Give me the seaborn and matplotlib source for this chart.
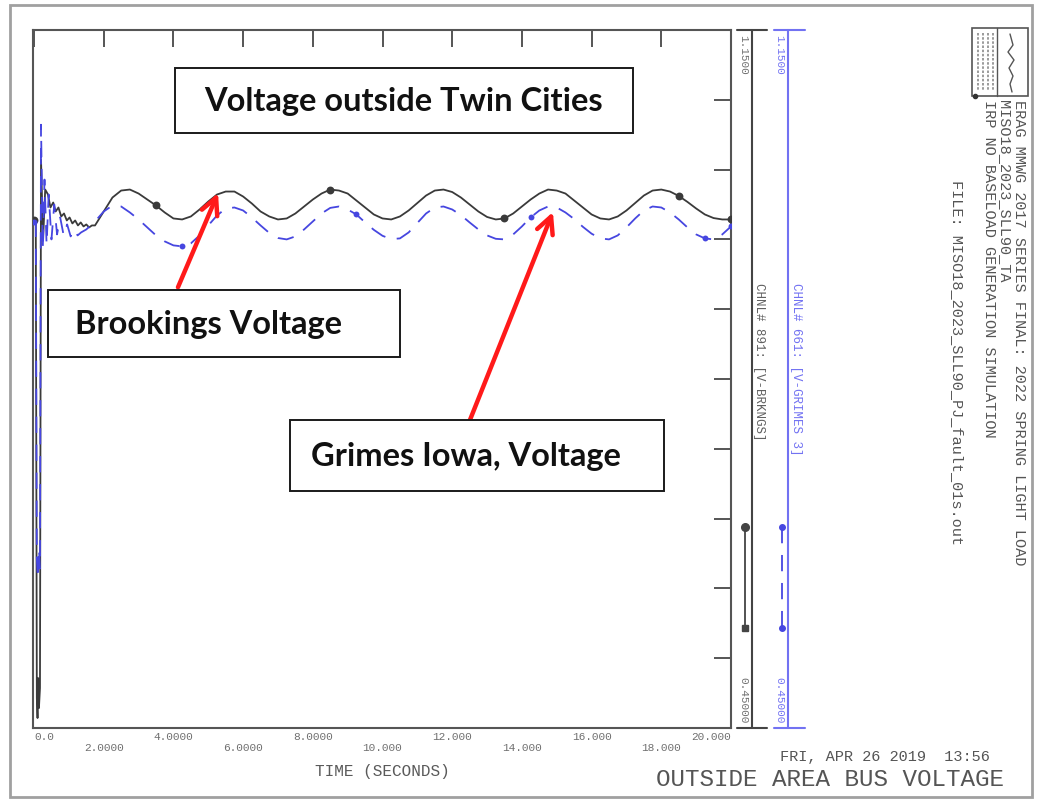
import numpy as np
import pandas as pd
import matplotlib
matplotlib.use("Agg")
import matplotlib.pyplot as plt
from matplotlib.patches import Rectangle
import seaborn as sns

# ---- simulation traces (time in seconds, voltage in pu) ----
brk_time = [0.0, 0.05, 0.08, 0.10, 0.12, 0.14, 0.17, 0.20, 0.26, 0.32, 0.40, 0.47,
            0.55, 0.62, 0.70, 0.78, 0.86, 0.94, 1.02, 1.10, 1.18, 1.26, 1.34, 1.42,
            1.50, 1.58, 1.66, 1.75, 2.0, 2.25, 2.5, 2.75, 3.0, 3.25, 3.5, 3.75, 4.0,
            4.25, 4.5, 4.75, 5.0, 5.25, 5.5, 5.75, 6.0, 6.25, 6.5, 6.75, 7.0, 7.25,
            7.5, 7.75, 8.0, 8.25, 8.5, 8.75, 9.0, 9.25, 9.5, 9.75, 10.0, 10.25, 10.5,
            10.75, 11.0, 11.25, 11.5, 11.75, 12.0, 12.25, 12.5, 12.75, 13.0, 13.25,
            13.5, 13.75, 14.0, 14.25, 14.5, 14.75, 15.0, 15.25, 15.5, 15.75, 16.0,
            16.25, 16.5, 16.75, 17.0, 17.25, 17.5, 17.75, 18.0, 18.25, 18.5, 18.75,
            19.0, 19.25, 19.5, 19.75, 20.0]
brk_volt = [0.959, 0.959, 0.48, 0.46, 0.50, 0.47, 0.49, 1.02, 0.94, 0.99, 0.985, 0.972,
            0.977, 0.968, 0.972, 0.963, 0.966, 0.959, 0.962, 0.956, 0.959, 0.954, 0.957, 0.953,
            0.955, 0.952, 0.954, 0.954, 0.968, 0.982, 0.989, 0.990, 0.986, 0.980, 0.974, 0.967, 0.961,
            0.960, 0.963, 0.970, 0.978, 0.985, 0.988, 0.988, 0.983, 0.976, 0.968, 0.963, 0.960, 0.961,
            0.966, 0.973, 0.980, 0.986, 0.990, 0.989, 0.986, 0.979, 0.972, 0.965, 0.961, 0.960, 0.963,
            0.969, 0.9765, 0.984, 0.989, 0.990, 0.9875, 0.982, 0.975, 0.968, 0.9625, 0.960,
            0.961, 0.966, 0.973, 0.980, 0.986, 0.990, 0.989, 0.986, 0.979, 0.972, 0.965,
            0.961, 0.960, 0.963, 0.969, 0.9765, 0.984, 0.989, 0.990, 0.988, 0.9836, 0.9776,
            0.971, 0.965, 0.9614, 0.960, 0.960]

grm_time = [0.0, 0.05, 0.08, 0.11, 0.14, 0.17, 0.20, 0.25, 0.30, 0.36, 0.42, 0.50,
            0.58, 0.66, 0.75, 0.85, 0.95, 1.05, 1.15, 1.25, 1.35, 1.5, 1.75, 2.0,
            2.25, 2.5, 2.75, 3.0, 3.25, 3.5, 3.75, 4.0, 4.25, 4.5, 4.75, 5.0, 5.25,
            5.5, 5.75, 6.0, 6.25, 6.5, 6.75, 7.0, 7.25, 7.5, 7.75, 8.0, 8.25, 8.5,
            8.75, 9.0, 9.25, 9.5, 9.75, 10.0, 10.25, 10.5, 10.75, 11.0, 11.25, 11.5,
            11.75, 12.0, 12.25, 12.5, 12.75, 13.0, 13.25, 13.5, 13.75, 14.0, 14.25,
            14.5, 14.75, 15.0, 15.25, 15.5, 15.75, 16.0, 16.25, 16.5, 16.75, 17.0,
            17.25, 17.5, 17.75, 18.0, 18.25, 18.5, 18.75, 19.0, 19.25, 19.5, 19.75, 20.0]
grm_volt = [0.957, 0.957, 0.62, 0.60, 0.63, 0.61, 1.055, 0.93, 1.00, 0.935, 0.985, 0.94,
            0.975, 0.945, 0.962, 0.944, 0.955, 0.943, 0.950, 0.944, 0.947, 0.950, 0.958, 0.968,
            0.974, 0.973, 0.967, 0.960, 0.952, 0.944, 0.938, 0.934, 0.933, 0.936, 0.944, 0.954, 0.964,
            0.971, 0.972, 0.969, 0.962, 0.954, 0.9465, 0.9414, 0.940, 0.943, 0.950, 0.958, 0.966, 0.9716,
            0.973, 0.970, 0.965, 0.957, 0.9496, 0.9436, 0.9403, 0.941, 0.947, 0.9565, 0.966, 0.972,
            0.973, 0.970, 0.9643, 0.957, 0.950, 0.944, 0.9406, 0.940, 0.945, 0.953, 0.962,
            0.969, 0.973, 0.972, 0.967, 0.9604, 0.9526, 0.9457, 0.941, 0.940, 0.944, 0.952,
            0.961, 0.969, 0.973, 0.972, 0.967, 0.960, 0.952, 0.945, 0.941, 0.940, 0.945, 0.953]

# plotted symbol times for each channel
brk_mark_times = [0.0, 3.5, 8.5, 13.5, 18.5, 20.0]
grm_mark_times = [0.0, 4.25, 9.25, 14.25, 19.25, 20.0]

x_ticks = [0, 2, 4, 6, 8, 10, 12, 14, 16, 18, 20]
x_tick_labels = ["0.0", "2.0000", "4.0000", "6.0000", "8.0000", "10.000",
                 "12.000", "14.000", "16.000", "18.000", "20.000"]
y_min, y_max = 0.45, 1.15
y_ticks = [0.45, 0.52, 0.59, 0.66, 0.73, 0.80, 0.87, 0.94, 1.01, 1.08, 1.15]

BRK = "Brookings"
GRM = "Grimes"
BLACK = "#3a3a3a"
BLUE = "#4646e0"
STRIP_BLUE = "#7272f2"
GRAY_TXT = "#5a5a5a"
MONO = "Liberation Mono"

df = pd.concat([
    pd.DataFrame({"t": brk_time, "v": brk_volt, "series": BRK}),
    pd.DataFrame({"t": grm_time, "v": grm_volt, "series": GRM}),
], ignore_index=True)

def marks(series, times):
    sub = df[df.series == series]
    keep = np.any(np.isclose(sub.t.values[:, None], np.array(times)[None, :]), axis=1)
    return sub[keep]

sns.set_style("white")
plt.rcParams["font.family"] = ["DejaVu Sans"]

W, H = 1042, 802
fig = plt.figure(figsize=(W / 100, H / 100), dpi=100)
fig.patch.set_facecolor("white")

L, R, T, B = 33, 731, 30, 728
ax = fig.add_axes([L / W, (H - B) / H, (R - L) / W, (B - T) / H])

sns.lineplot(data=df, x="t", y="v", hue="series", style="series",
             palette={BRK: BLACK, GRM: BLUE},
             dashes={BRK: "", GRM: (9, 6.5)},
             sort=False, estimator=None, linewidth=1.3, legend=False, ax=ax)
sns.scatterplot(data=marks(BRK, brk_mark_times), x="t", y="v", color=BLACK,
                s=32, linewidth=0, legend=False, ax=ax, zorder=4)
sns.scatterplot(data=marks(GRM, grm_mark_times), x="t", y="v", color=BLUE,
                s=18, linewidth=0, legend=False, ax=ax, zorder=4)

ax.set_xlim(-0.03, 20)
ax.set_ylim(y_min, y_max)
ax.set_yticks(y_ticks)
ax.set_xticks(x_ticks)
ax.set_xticklabels([lab if i % 2 == 0 else "\n" + lab for i, lab in enumerate(x_tick_labels)],
                   fontfamily=MONO, fontsize=8, color="#707070", linespacing=1.15)
tl = ax.get_xticklabels()
tl[0].set_ha("left")
tl[-1].set_ha("right")
ax.tick_params(axis="both", direction="in", length=12.5, width=1.4, color="#555555",
               top=True, right=True, labelleft=False, pad=3)
for sp in ax.spines.values():
    sp.set_color("#555555")
    sp.set_linewidth(1.5)
ax.set_xlabel("TIME (SECONDS)", fontfamily=MONO, fontsize=11.5, color=GRAY_TXT, labelpad=8)
ax.set_ylabel("")

# callout arrows pointing at the traces
arrow_kw = dict(arrowstyle="->", color="#ff1a1a", lw=3.2, mutation_scale=30,
                shrinkA=0, shrinkB=0)
ax.annotate("", xy=(5.28, 0.9865), xytext=(4.13, 0.892), arrowprops=arrow_kw, zorder=6)
ax.annotate("", xy=(14.89, 0.9675), xytext=(12.51, 0.759), arrowprops=arrow_kw, zorder=6)

# ---- overlay in pixel units for frame, callout boxes and plot furniture ----
ov = fig.add_axes([0, 0, 1, 1], zorder=5)
ov.set_xlim(0, W)
ov.set_ylim(H, 0)
ov.axis("off")
ov.patch.set_alpha(0)

ov.add_patch(Rectangle((10, 5), 1022, 792, fill=False, ec="#a0a0a0", lw=2))

def callout(x0, y0, x1, y1, text, tx=None):
    ov.add_patch(Rectangle((x0, y0), x1 - x0, y1 - y0, fc="white", ec="#1a1a1a", lw=1.4))
    kw = dict(va="center", fontsize=23.5, fontweight="bold", family="Lato", color="#111111")
    if tx is None:
        ov.text((x0 + x1) / 2, (y0 + y1) / 2 + 1, text, ha="center", **kw)
    else:
        ov.text(tx, (y0 + y1) / 2 + 1, text, ha="left", **kw)

callout(175, 68, 633, 133, "Voltage outside Twin Cities")
callout(48, 290, 400, 357, "Brookings Voltage", tx=75)
callout(290, 420, 664, 491, "Grimes Iowa, Voltage", tx=311)

# channel scale strips
ov.plot([752, 752], [T, B], color="#444444", lw=1.5)
ov.plot([737, 767], [T, T], color="#444444", lw=1.5)
ov.plot([737, 767], [B, B], color="#444444", lw=1.5)
ov.plot([788, 788], [T, B], color=STRIP_BLUE, lw=1.5)
ov.plot([774, 805], [T, T], color=STRIP_BLUE, lw=1.5)
ov.plot([774, 805], [B, B], color=STRIP_BLUE, lw=1.5)

ov.text(743, 35, "1.1500", rotation=-90, ha="center", va="top", fontsize=8,
        family=MONO, color="#707070")
ov.text(743, 723, "0.45000", rotation=-90, ha="center", va="bottom", fontsize=8,
        family=MONO, color="#707070")
ov.text(779, 35, "1.1500", rotation=-90, ha="center", va="top", fontsize=8,
        family=MONO, color=STRIP_BLUE)
ov.text(779, 723, "0.45000", rotation=-90, ha="center", va="bottom", fontsize=8,
        family=MONO, color=STRIP_BLUE)
ov.text(759, 283, "CHNL# 891: [V-BRKNGS]", rotation=-90, ha="center", va="top",
        fontsize=9, family=MONO, color="#606060")
ov.text(796, 283, "CHNL# 661: [V-GRIMES 3]", rotation=-90, ha="center", va="top",
        fontsize=9, family=MONO, color=STRIP_BLUE)

# line-style keys
ov.plot([745, 745], [527, 628], color="#444444", lw=1.3)
ov.plot([745], [527], marker="o", ms=5.5, color="#444444")
ov.plot([745], [628], marker="s", ms=5, color="#444444")
ov.plot([782, 782], [527, 628], color=BLUE, lw=1.3, dashes=(9, 6.5))
ov.plot([782], [527], marker="o", ms=4, color=BLUE)
ov.plot([782], [628], marker="o", ms=4, color=BLUE)

# title block on the right
ov.add_patch(Rectangle((972, 28), 56, 68, fill=False, ec="#555555", lw=1.2))
ov.plot([997, 997], [28, 96], color="#555555", lw=1)
for xx in (978, 983, 988, 993):
    ov.plot([xx, xx], [33, 91], color="#8a8a8a", lw=1.2, dashes=(1.5, 1))
ov.plot([1010, 1013, 1008, 1014, 1009, 1013, 1010, 1012],
        [34, 45, 52, 60, 68, 76, 84, 92], color="#555555", lw=1)
ov.plot([975], [96], marker="o", ms=3, color="#333333")

info_kw = dict(rotation=-90, ha="center", va="top", fontsize=11, family=MONO, color="#555555")
ov.text(1019, 100, "ERAG MMWG 2017 SERIES FINAL: 2022 SPRING LIGHT LOAD", **info_kw)
ov.text(1004, 100, "MISO18_2023_SLL90_TA", **info_kw)
ov.text(989, 100, "IRP NO BASELOAD GENERATION SIMULATION", **info_kw)
ov.text(957, 180, "FILE: MISO18_2023_SLL90_PJ_fault_01s.out", **info_kw)

ov.text(990, 757, "FRI, APR 26 2019  13:56", ha="right", va="center",
        fontsize=11, family=MONO, color="#555555")
ov.text(1004, 780, "OUTSIDE AREA BUS VOLTAGE", ha="right", va="center",
        fontsize=17.5, family=MONO, color="#555555")

fig.savefig("out.png", dpi=100, facecolor="white")
